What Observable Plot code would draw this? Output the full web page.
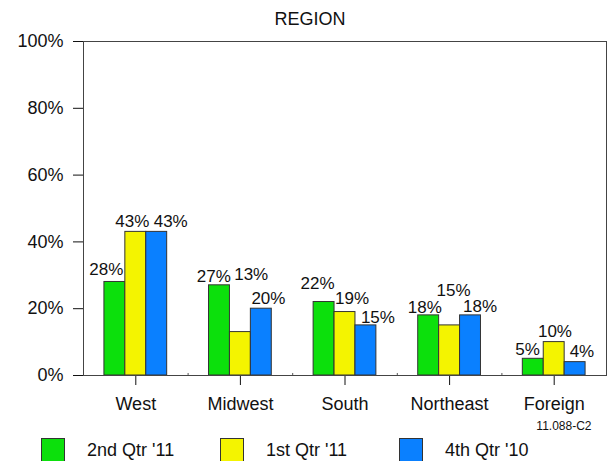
<!DOCTYPE html>
<html>
<head>
<meta charset="utf-8">
<script src="https://cdn.jsdelivr.net/npm/d3@7"></script>
<script src="https://cdn.jsdelivr.net/npm/@observablehq/plot@0.6"></script>
<style>
  html, body { margin: 0; padding: 0; background: #fff; }
  body { width: 610px; height: 461px; overflow: hidden; font-family: 'Liberation Sans', Arial, sans-serif; color: #111; }
  #title { height: 32px; position: relative; }
  #title span { position: absolute; left: 0; width: 620px; text-align: center; top: 10px; font-size: 18px; line-height: 18px; }
  #chart { height: 400px; }
  #chart svg { display: block; }
  #legend { height: 29px; position: relative; overflow: hidden; }
  .item { position: absolute; top: 6px; display: flex; align-items: flex-start; }
  .sw { width: 24px; height: 24px; box-sizing: border-box; border: 1px solid #333; }
  .lab { font-size: 18px; line-height: 18px; margin-left: 22px; margin-top: 3px; white-space: pre; }
</style>
</head>
<body>
<div id="title"><span>REGION</span></div>
<div id="chart"></div>
<div id="legend"></div>
<script>
// ---- data ----
const regions = ["West", "Midwest", "South", "Northeast", "Foreign"];
const series = ["2nd Qtr '11", "1st Qtr '11", "4th Qtr '10"];
const q2_11 = [28, 27, 22, 18, 5];
const q1_11 = [43, 13, 19, 15, 10];
const q4_10 = [43, 20, 15, 18, 4];
const yTicks = [0, 20, 40, 60, 80, 100];
const caption = "11.088-C2";

// ---- styling ----
const colors = ["#0CE00C", "#F4F400", "#0A80FF"];
const offsets = [-0.2, 0, 0.2];
const barW = 0.2;
// label nudges [dx, dy] in px relative to bar centre / bar top (labeller's placement)
const labelNudge = [
  [[-8.6, -6.6], [-3.5, -5], [14, -5]],
  [[-5.6, -3.3], [10.8, -51.6], [7.1, -4.3]],
  [[-6.5, -13.3], [7, -8.3], [12, -2.3]],
  [[-3.8, -2.7], [4, -29], [9.6, -3]],
  [[-5.8, -4.3], [0.75, -5.6], [6.8, -5]]
];

const seriesValues = [q2_11, q1_11, q4_10];
const data = [];
regions.forEach((r, i) => {
  seriesValues.forEach((vals, s) => {
    data.push({region: r, i, s, series: series[s], value: vals[i]});
  });
});

const labelMarks = data.map(d => Plot.text([d], {
  x: d => d.i + offsets[d.s],
  y: "value",
  text: d => d.value + "%",
  lineAnchor: "bottom",
  fontSize: 17,
  fill: "#111",
  dx: labelNudge[d.i][d.s][0],
  dy: labelNudge[d.i][d.s][1]
}));

const chart = Plot.plot({
  width: 610,
  height: 400,
  marginTop: 9,
  marginBottom: 57,
  marginLeft: 83,
  marginRight: 4,
  style: {fontFamily: "'Liberation Sans', Arial, sans-serif", fontSize: "18px", color: "#111", background: "#fff", overflow: "visible"},
  x: {
    type: "linear",
    domain: [-0.5, regions.length - 0.5],
    ticks: regions.map((_, i) => i),
    tickFormat: i => regions[i],
    tickSize: 10,
    tickPadding: 11.5,
    label: null
  },
  y: {
    domain: [0, 100],
    ticks: yTicks,
    tickFormat: d => d + "%",
    tickSize: 10,
    tickPadding: 10,
    label: null
  },
  color: {domain: series, range: colors},
  marks: [
    Plot.rectY(data, {
      x1: d => d.i + offsets[d.s] - barW / 2,
      x2: d => d.i + offsets[d.s] + barW / 2,
      y: "value",
      fill: "series",
      stroke: "#333",
      strokeWidth: 1
    }),
    Plot.ruleX(regions.slice(1).map((_, i) => i + 0.5), {y1: 0, y2: 0.6, stroke: "#555"}),
    Plot.frame({stroke: "#444"}),
    ...labelMarks,
    Plot.text([caption], {
      frameAnchor: "bottom-right",
      text: d => d,
      textAnchor: "end",
      lineAnchor: "bottom",
      fontSize: 12,
      fill: "#111",
      dx: -15,
      dy: 54
    })
  ]
});
document.getElementById("chart").appendChild(chart);

// ---- legend ----
const legend = document.getElementById("legend");
const legendX = [41, 220, 399];
series.forEach((s, k) => {
  const it = document.createElement("div");
  it.className = "item";
  it.style.left = legendX[k] + "px";
  const sw = document.createElement("div");
  sw.className = "sw";
  sw.style.background = colors[k];
  const lab = document.createElement("span");
  lab.className = "lab";
  lab.textContent = s;
  it.appendChild(sw);
  it.appendChild(lab);
  legend.appendChild(it);
});
</script>
</body>
</html>
